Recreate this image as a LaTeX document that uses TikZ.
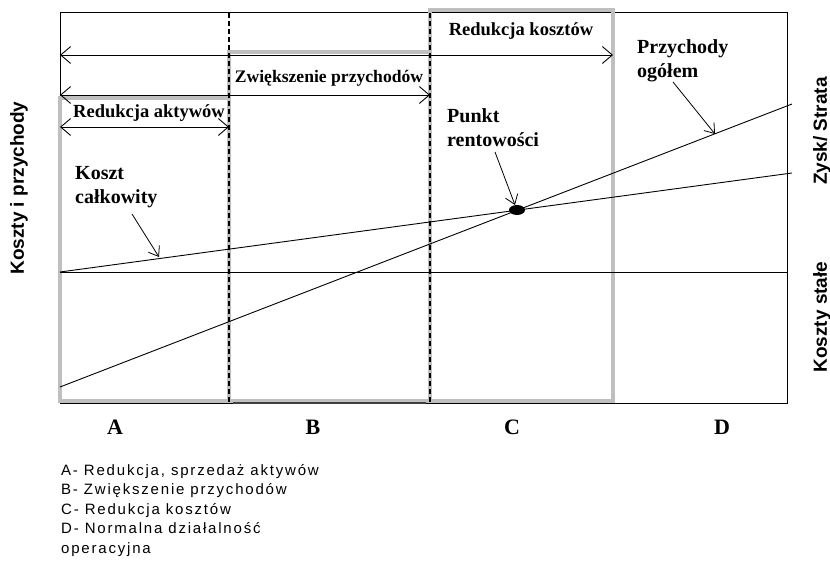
\documentclass[tikz,border=0pt]{standalone}
\usepackage{fontspec}
\setmainfont{Liberation Serif}
\setsansfont{Liberation Sans}
\newfontfamily\legendfont[LetterSpace=12]{Liberation Sans}
\usetikzlibrary{arrows.meta,positioning,shapes.geometric}

\tikzset{
  ramka/.style={gray!50, line width=4.5pt},
  podzial/.style={dash pattern=on 5pt off 3pt, line width=1.1pt},
  zakres/.style={{Straight Barb[length=10pt,width=17pt]}-{Straight Barb[length=10pt,width=17pt]}, line width=0.9pt},
  wskaznik/.style={-{Straight Barb[length=9pt,width=13pt]}, line width=0.8pt},
  etykieta/.style={font=\bfseries\fontsize{20}{24}\selectfont, inner sep=0pt, align=left},
  pasek/.style={font=\bfseries\fontsize{18.5}{22}\selectfont, inner sep=0pt},
  os/.style={font=\sffamily\bfseries\fontsize{19}{21}\selectfont, rotate=90, inner sep=0pt},
  litera/.style={font=\bfseries\fontsize{22}{24}\selectfont, inner sep=0pt},
  legenda/.style={font=\legendfont\fontsize{15}{19.5}\selectfont, inner sep=0pt, align=left},
}

\begin{document}
\begin{tikzpicture}[x=1pt,y=-1pt]
    \useasboundingbox (0,0) rectangle (830,564);
    \def\xl{60}
    \def\xa{229}
    \def\xb{430}
    \def\xc{613}
    \def\xr{787}
    \def\yt{13}
    \def\yb{403}

    % ramka wykresu
    \draw[line width=1pt] (\xl,\yt) rectangle (\xr,\yb);
    % pola A, B, C
    \draw[ramka] (\xl,98) rectangle (\xa,401);
    \draw[ramka] (\xa,52) rectangle (\xb,401);
    \draw[ramka] (\xb,10) rectangle (\xc,401);
    \draw[line width=1.5pt, black!75] (\xa+4,\yb) -- (\xb-4,\yb);
    % linie przerywane
    \draw[podzial] (\xa,\yt) -- (\xa,\yb);
    \draw[podzial] (\xb,\yt) -- (\xb,\yb);

    % koszty stale, koszt calkowity, przychody
    \coordinate (ks0) at (\xl,272);
    \coordinate (ks1) at (\xr,272);
    \coordinate (kc0) at (\xl,272);
    \coordinate (kc1) at (792,173);
    \coordinate (pr0) at (\xl,387);
    \coordinate (pr1) at (792,104);
    \draw[line width=0.9pt] (ks0) -- (ks1);
    \draw[line width=0.9pt] (kc0) -- (kc1);
    \draw[line width=0.9pt] (pr0) -- (pr1);
    \node[ellipse, fill=black, minimum width=16pt, minimum height=10pt, inner sep=0pt] (bep) at (517,210) {};

    % zakresy
    \coordinate (z1l) at (\xl,55);
    \coordinate (z1r) at (\xc,55);
    \coordinate (z2l) at (\xl,95);
    \coordinate (z2r) at (\xb,95);
    \coordinate (z3l) at (\xl,127);
    \coordinate (z3r) at (\xa,127);
    \draw[zakres] (z1l) -- (z1r);
    \draw[zakres] (z2l) -- (z2r);
    \draw[zakres] (z3l) -- (z3r);
    \node[pasek] (redkoszt) at (521,31) {Redukcja kosztów};
    \node[pasek, font=\bfseries\fontsize{17.6}{21}\selectfont] (zwprzych) at (329,78) {Zwiększenie przychodów};
    \node[pasek] (redaktyw) at (149,113) {Redukcja aktywów};

    % opisy linii
    \node[etykieta, anchor=north west] (kosztc) at (75,166.5) {Koszt\\całkowity};
    \node[etykieta, anchor=north west] (punkt) at (447,108.5) {Punkt\\rentowości};
    \node[etykieta, anchor=north west] (przych) at (637,39.5) {Przychody\\ogółem};
    \coordinate (kosztc0) at (132,214);
    \coordinate (kosztc1) at (159,257);
    \coordinate (punkt0) at (495,152);
    \coordinate (punkt1) at (515,205);
    \coordinate (przych0) at (673,82);
    \coordinate (przych1) at (715,134);
    \draw[wskaznik] (kosztc0) -- (kosztc1);
    \draw[wskaznik] (punkt0) -- (punkt1);
    \draw[wskaznik] (przych0) -- (przych1);

    % osie
    \node[os] (osl) at (19,188) {Koszty i przychody};
    \node[os] (zysk) at (822,131) {Zysk/ Strata};
    \node[os] (stale) at (822,317) {Koszty stałe};

    % litery pod polami
    \node[litera] (A) at (115,427) {A};
    \node[litera] (B) at (313,427) {B};
    \node[litera] (C) at (512,427) {C};
    \node[litera] (D) at (722,427) {D};

    % legenda
    \node[legenda, anchor=north west] (leg) at (61,464) {A- Redukcja, sprzedaż aktywów\\B- Zwiększenie przychodów\\C- Redukcja kosztów\\D- Normalna działalność\\operacyjna};
\end{tikzpicture}
\end{document}
